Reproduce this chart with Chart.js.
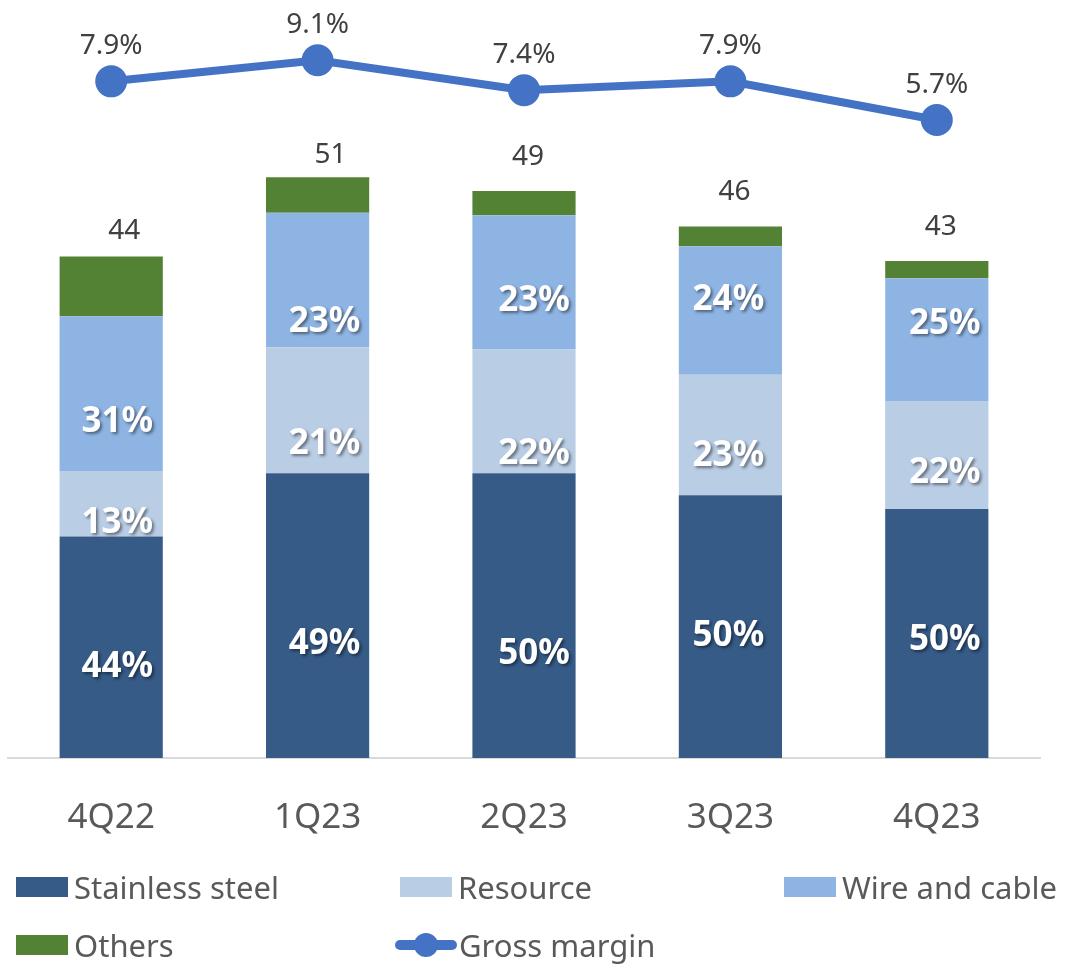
<!DOCTYPE html>
<html>
<head>
<meta charset="utf-8">
<script src="https://cdn.jsdelivr.net/npm/chart.js@4"></script>
<style>
  body { margin: 0; background: #fff; font-family: "Noto Sans", sans-serif; }
  #wrap { position: relative; width: 1067px; height: 966px; }
  #box { position: absolute; left: 0; top: 0; width: 1067px; height: 880px; }
  #legend { position: absolute; left: 16px; top: 866px; width: 1060px; display: grid; grid-template-columns: 384px 384px 300px; row-gap: 16px; }
  .item { display: flex; align-items: center; height: 42px; font-size: 31px; color: #595959; white-space: nowrap; }
  .sw { width: 52px; height: 20px; margin-right: 6px; flex: none; }
  .ln { position: relative; width: 62px; height: 24px; margin-right: 2px; flex: none; margin-left: -5px; }
  .ln i { position: absolute; left: 0; right: 0; top: 7px; height: 10px; border-radius: 5px; }
  .ln b { position: absolute; left: 19px; top: 0; width: 24px; height: 24px; border-radius: 50%; }
</style>
</head>
<body>
<div id="wrap">
  <div id="box"><canvas id="chart"></canvas></div>
  <div id="legend"></div>
</div>
<script>
// quarters
var quarters = ["4Q22", "1Q23", "2Q23", "3Q23", "4Q23"];

// segment sizes
var stainless = [19.3, 24.8, 24.8, 22.9, 21.7];
var resource  = [5.7, 11.0, 10.8, 10.5, 9.4];
var wire      = [13.5, 11.7, 11.7, 11.2, 10.7];
var others    = [5.2, 3.1, 2.1, 1.7, 1.5];

// printed labels
var stainlessPct = [44, 49, 50, 50, 50];
var resourcePct  = [13, 21, 22, 23, 22];
var wirePct      = [31, 23, 23, 24, 25];
var totals       = [44, 51, 49, 46, 43];
var grossMargin  = [7.9, 9.1, 7.4, 7.9, 5.7];

// hand placement of the in-bar labels, [dx, dy] from segment centre
var segNudge = [
    [[6, 20], [6, 19], [6, 28]],
    [[7, 28], [7, 34], [7, 42]],
    [[10, 38], [10, 43], [10, 19]],
    [[-2, 9], [-2, 21], [-2, -10]],
    [[8, 7], [8, 18], [8, -16]]
];
var totalNudge = [[13, 25], [13, 22], [4, 34], [4, 35], [4, 34]];

var C_STEEL = "#365B87", C_RES = "#B9CDE5", C_WIRE = "#8EB4E3", C_OTH = "#548235", C_GM = "#4472C4";

var labelPlugin = {
    id: "labels",
    afterDatasetsDraw: function(chart) {
        var ctx = chart.ctx;
        var pcts = [stainlessPct, resourcePct, wirePct];
        ctx.save();
        ctx.textAlign = "center";
        ctx.textBaseline = "middle";
        // in-bar percentages
        ctx.font = "bold 35px 'Noto Sans'";
        ctx.fillStyle = "#fff";
        ctx.shadowColor = "rgba(0,0,0,0.45)";
        ctx.shadowOffsetX = 2;
        ctx.shadowOffsetY = 2;
        ctx.shadowBlur = 3;
        for (var d = 0; d < 3; d++) {
            var meta = chart.getDatasetMeta(d);
            meta.data.forEach(function(bar, i) {
                var n = segNudge[i][d];
                ctx.fillText(pcts[d][i] + "%", bar.x + n[0], (bar.y + bar.base) / 2 + n[1]);
            });
        }
        ctx.shadowColor = "transparent";
        // totals
        ctx.font = "28px 'Noto Sans'";
        ctx.fillStyle = "#404040";
        chart.getDatasetMeta(3).data.forEach(function(bar, i) {
            ctx.fillText(String(totals[i]), bar.x + totalNudge[i][0], bar.y - totalNudge[i][1]);
        });
        // gross margin
        chart.getDatasetMeta(4).data.forEach(function(pt, i) {
            ctx.fillText(grossMargin[i].toFixed(1) + "%", pt.x, pt.y - 35);
        });
        ctx.restore();
    }
};

var chart = new Chart(document.getElementById("chart"), {
    type: "bar",
    data: {
        labels: quarters,
        datasets: [
            { label: "Stainless steel", data: stainless, backgroundColor: C_STEEL, order: 1 },
            { label: "Resource", data: resource, backgroundColor: C_RES, order: 1 },
            { label: "Wire and cable", data: wire, backgroundColor: C_WIRE, order: 1 },
            { label: "Others", data: others, backgroundColor: C_OTH, order: 1 },
            { type: "line", label: "Gross margin", data: grossMargin, yAxisID: "y2", order: 0,
              borderColor: C_GM, backgroundColor: C_GM, borderWidth: 8, pointRadius: 12, pointHoverRadius: 12, clip: false }
        ]
    },
    options: {
        responsive: true,
        maintainAspectRatio: false,
        animation: false,
        layout: { autoPadding: false, padding: { left: 8, right: 27, top: 12, bottom: 10 } },
        datasets: { bar: { barPercentage: 0.5, categoryPercentage: 1 } },
        plugins: { legend: { display: false }, tooltip: { enabled: false } },
        scales: {
            x: {
                stacked: true,
                grid: { display: false },
                border: { display: true, color: "#D9D9D9", width: 2 },
                ticks: { color: "#595959", font: { family: "Noto Sans", size: 35 }, padding: 31 }
            },
            y: { stacked: true, display: false, min: 0, max: 65 },
            y2: { display: false, min: -30.55, max: 11.84 }
        }
    },
    plugins: [labelPlugin]
});

// legend laid out in three columns like the original
var legend = document.getElementById("legend");
chart.data.datasets.forEach(function(ds) {
    var item = document.createElement("div");
    item.className = "item";
    if (ds.type === "line") {
        item.innerHTML = '<span class="ln"><i style="background:' + ds.borderColor + '"></i><b style="background:' + ds.borderColor + '"></b></span>';
    } else {
        item.innerHTML = '<span class="sw" style="background:' + ds.backgroundColor + '"></span>';
    }
    item.appendChild(document.createTextNode(ds.label));
    legend.appendChild(item);
});
</script>
</body>
</html>
